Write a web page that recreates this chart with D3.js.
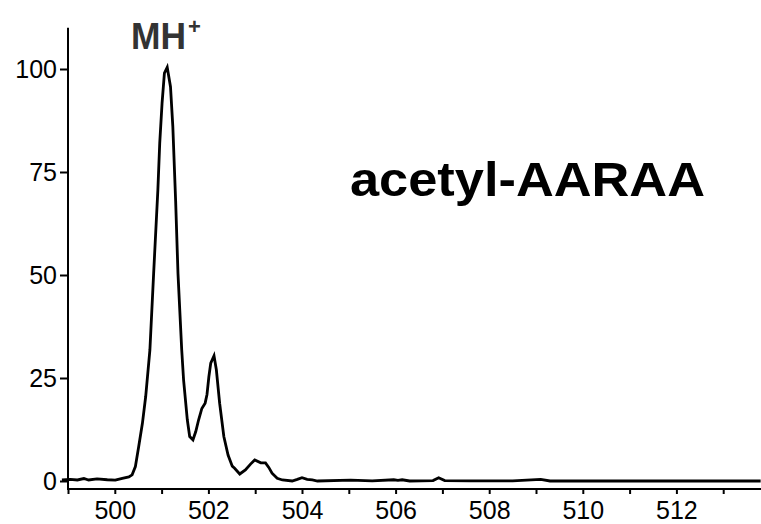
<!DOCTYPE html>
<html>
<head>
<meta charset="utf-8">
<script src="https://cdn.jsdelivr.net/npm/d3@7"></script>
<style>
  html, body { margin: 0; padding: 0; background: #fff; }
  svg { display: block; font-family: "Liberation Sans", Arial, sans-serif; }
</style>
</head>
<body>
<svg id="chart" width="761" height="524"></svg>
<script>
// m/z values (x) and relative intensity (y)
const mz = [498.87, 499.05, 499.2, 499.34, 499.44, 499.62, 499.84, 500.01, 500.16, 500.30,
  500.37, 500.44, 500.51, 500.59, 500.66, 500.75, 500.83, 500.92, 500.96, 501.01,
  501.06, 501.12, 501.19, 501.24, 501.30, 501.35, 501.43, 501.47, 501.55, 501.60,
  501.67, 501.73, 501.79, 501.86, 501.93, 501.97, 502.01, 502.05, 502.12, 502.17,
  502.24, 502.33, 502.42, 502.51, 502.56, 502.67, 502.79, 502.90, 502.99, 503.12,
  503.22, 503.29, 503.36, 503.47, 503.58, 503.79, 503.90, 504.00, 504.11, 504.22,
  504.33, 505.04, 505.5, 505.96, 506.05, 506.14, 506.3, 506.8, 506.92, 507.05,
  507.6, 508.5, 509.1, 509.3, 510.5, 512, 513.8];
const intensity = [0.25, 0.4, 0.25, 0.6, 0.25, 0.5, 0.3, 0.2, 0.65, 1.0,
  1.5, 3.5, 8.3, 14, 20.5, 31.8, 50.4, 70.6, 82, 91.7,
  99, 100.4, 95.7, 86, 68, 50.4, 31.8, 24.5, 14.8, 10.8,
  10, 12, 14.8, 17.6, 18.9, 21, 25.3, 28.6, 30.4, 27,
  18.9, 10.8, 6.3, 3.6, 3.1, 1.7, 2.7, 4.1, 5.1, 4.4,
  4.4, 3.3, 1.9, 0.65, 0.25, 0, 0.4, 0.8, 0.4, 0.25,
  0, 0.2, 0.05, 0.3, 0.15, 0.3, 0, 0.1, 0.8, 0.1,
  0.05, 0.05, 0.4, 0, 0, 0, 0];
const xMajorTicks = [500, 502, 504, 506, 508, 510, 512];
const xMinorTicks = [499, 501, 503, 505, 507, 509, 511, 513];
const yTicks = [0, 25, 50, 75, 100];
const peakLabel = "MH";
const peakLabelSup = "+";
const title = "acetyl-AARAA";

const svg = d3.select("#chart");
const x = d3.scaleLinear().domain([499, 514]).range([68, 770]);
const y = d3.scaleLinear().domain([0, 110]).range([481, 27.8]);
const axisY = 489;

// y axis
const yAxis = d3.axisLeft(y).tickValues(yTicks).tickSize(8).tickPadding(3).tickFormat(d3.format("d"));
const gy = svg.append("g").attr("transform", `translate(${x(499)},0)`).call(yAxis);
gy.select(".domain").remove();
gy.selectAll(".tick line").attr("stroke", "#000").attr("stroke-width", 2);
gy.selectAll(".tick text").attr("font-size", 25).attr("fill", "#000")
  .attr("font-family", "Liberation Sans, Arial, sans-serif");
svg.append("line").attr("x1", x(499)).attr("x2", x(499))
  .attr("y1", y(110)).attr("y2", axisY + 1)
  .attr("stroke", "#000").attr("stroke-width", 2);

// x axis (major with labels)
const xAxis = d3.axisBottom(x).tickValues(xMajorTicks).tickSize(5).tickPadding(7).tickFormat(d3.format("d"));
const gx = svg.append("g").attr("transform", `translate(0,${axisY})`).call(xAxis);
gx.select(".domain").remove();
gx.selectAll(".tick line").attr("stroke", "#000").attr("stroke-width", 2);
gx.selectAll(".tick text").attr("font-size", 25).attr("fill", "#000")
  .attr("font-family", "Liberation Sans, Arial, sans-serif");
// minor ticks
const xMinor = d3.axisBottom(x).tickValues(xMinorTicks).tickSize(5).tickFormat("");
const gxm = svg.append("g").attr("transform", `translate(0,${axisY})`).call(xMinor);
gxm.select(".domain").remove();
gxm.selectAll(".tick line").attr("stroke", "#000").attr("stroke-width", 2);
svg.append("line").attr("x1", x(499) - 1).attr("x2", x(514))
  .attr("y1", axisY).attr("y2", axisY)
  .attr("stroke", "#000").attr("stroke-width", 2);

// spectrum line
const pts = mz.map((m, i) => [m, intensity[i]]);
const line = d3.line().x(d => x(d[0])).y(d => y(d[1]));
svg.append("path").datum(pts).attr("d", line)
  .attr("fill", "none").attr("stroke", "#000").attr("stroke-width", 2.8)
  .attr("stroke-linejoin", "miter");

// labels
const t = svg.append("text").attr("x", 131).attr("y", 49)
  .attr("font-size", 37).attr("font-weight", "bold").attr("fill", "#333");
t.append("tspan").attr("textLength", 55).attr("lengthAdjust", "spacingAndGlyphs").text(peakLabel);
t.append("tspan").attr("font-size", 22).attr("dy", -15).attr("dx", 2).text(peakLabelSup);

svg.append("text").attr("x", 350).attr("y", 196)
  .attr("font-size", 48).attr("font-weight", "bold").attr("fill", "#000")
  .attr("textLength", 355).attr("lengthAdjust", "spacingAndGlyphs")
  .text(title);
</script>
</body>
</html>
